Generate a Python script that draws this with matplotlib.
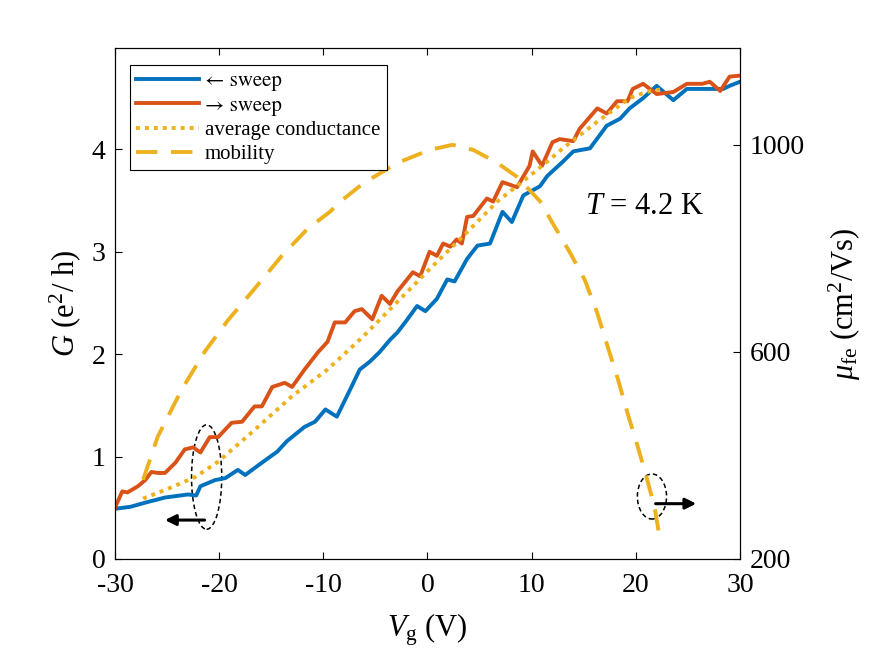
import numpy as np
import matplotlib
matplotlib.use('Agg')
from matplotlib import pyplot as plt
from matplotlib.patches import Ellipse

plt.rcParams['font.family'] = ['Liberation Serif', 'DejaVu Serif']
plt.rcParams['mathtext.fontset'] = 'custom'
plt.rcParams['mathtext.rm'] = 'Liberation Serif'
plt.rcParams['mathtext.it'] = 'Liberation Serif:italic'
plt.rcParams['axes.unicode_minus'] = False

# <- sweep (backward)
v_back = [-30, -28.5, -27.1, -25.2, -23, -22.2, -21.8, -20.4, -19.4, -18.2, -17.5, -15.9,
          -14.4, -13.5, -11.8, -10.8, -9.8, -8.7, -7.4, -6.5, -5.5, -4.6, -3.6, -2.9, -2.0,
          -1.0, -0.2, 0.9, 1.9, 2.6, 3.8, 4.8, 6.0, 7.2, 8.1, 9.2, 10.1, 10.8, 11.5, 13.0,
          14.0, 15.6, 17.2, 18.5, 19.4, 20.7, 22.0, 23.6, 24.9, 26.8, 28.4, 29.0, 30]
g_back = [0.49, 0.51, 0.55, 0.60, 0.63, 0.62, 0.71, 0.77, 0.79, 0.87, 0.82, 0.94,
          1.05, 1.15, 1.29, 1.34, 1.46, 1.39, 1.66, 1.85, 1.93, 2.02, 2.14, 2.21, 2.33,
          2.47, 2.42, 2.54, 2.73, 2.71, 2.93, 3.06, 3.08, 3.39, 3.29, 3.55, 3.60, 3.64, 3.74, 3.88,
          3.98, 4.01, 4.23, 4.30, 4.40, 4.50, 4.62, 4.48, 4.59, 4.59, 4.59, 4.62, 4.66]

# -> sweep (forward)
v_fwd = [-30, -29.3, -28.8, -27.8, -27.1, -26.5, -25.9, -25.2, -24.2, -23.3, -22.5, -21.8,
         -20.9, -20.1, -18.8, -17.8, -16.6, -15.9, -14.9, -13.7, -13.0, -11.8, -10.5, -9.6,
         -8.9, -7.9, -7.0, -6.3, -5.3, -4.4, -3.6, -2.9, -1.4, -0.7, 0.2, 0.9, 1.5, 2.2, 2.8,
         3.3, 3.8, 4.4, 5.7, 6.3, 7.2, 8.6, 9.8, 10.1, 11.0, 12.0, 12.7, 14.0, 14.6, 16.3,
         17.2, 18.2, 19.2, 19.7, 20.7, 22.0, 23.6, 24.9, 26.4, 27.1, 28.1, 29.0, 30]
g_fwd = [0.50, 0.66, 0.65, 0.71, 0.77, 0.85, 0.84, 0.84, 0.94, 1.07, 1.09, 1.04,
         1.19, 1.19, 1.33, 1.34, 1.49, 1.49, 1.68, 1.72, 1.68, 1.85, 2.02, 2.12,
         2.31, 2.31, 2.42, 2.44, 2.34, 2.57, 2.49, 2.61, 2.80, 2.76, 3.00, 2.96, 3.08, 3.05, 3.12,
         3.08, 3.34, 3.35, 3.52, 3.49, 3.68, 3.63, 3.84, 3.98, 3.84, 4.07, 4.10, 4.08, 4.20, 4.40,
         4.35, 4.47, 4.47, 4.59, 4.64, 4.54, 4.56, 4.64, 4.64, 4.66, 4.57, 4.71, 4.72]

# average conductance
v_avg = [-27.3, -24.8, -22.3, -20.1, -16.6, -13.0, -9.6, -6.2, -2.9, 0.2, 3.4, 6.7,
         9.8, 11.5, 13.0, 16.3, 19.4, 21.0, 22.6]
g_avg = [0.59, 0.69, 0.80, 0.95, 1.26, 1.59, 1.85, 2.17, 2.51, 2.83, 3.15, 3.49,
         3.74, 3.88, 4.01, 4.27, 4.50, 4.56, 4.59]

# field-effect mobility (right axis)
v_mob = [-27.3, -25.9, -23.6, -21.4, -19.2, -16.6, -14.0, -11.5, -9.4, -8.2, -6.2, -2.9,
         0.2, 2.4, 4.4, 6.7, 8.6, 10.8, 12.0, 13.7, 15.1, 16.3, 17.3, 18.3, 19.2, 20.2,
         21.0, 21.8, 22.3]
mu_fe = [353, 436, 527, 600, 660, 722, 785, 838, 870, 893, 925, 965,
         990, 1000, 990, 965, 938, 891, 849, 791, 739, 675, 610, 546, 482, 416,
         360, 300, 240]

blue = '#0072BD'
red = '#D95319'
yellow = '#EDB120'

fig = plt.figure(figsize=(8.75, 6.57), dpi=100)
ax = fig.add_axes([0.1314, 0.1492, 0.7143, 0.7778])
ax2 = ax.twinx()

l1, = ax.plot(v_back, g_back, color=blue, lw=2.8)
l2, = ax.plot(v_fwd, g_fwd, color=red, lw=2.8)
l3, = ax.plot(v_avg, g_avg, color=yellow, lw=2.8, dashes=(1, 1.3))
l4, = ax2.plot(v_mob, mu_fe, color=yellow, lw=2.8, dashes=(5.5, 3.5))

ax.set_xlim(-30, 30)
ax.set_ylim(0, 4.99)
ax2.set_ylim(200, 1187)
ax.set_xticks(np.arange(-30, 31, 10))
ax.set_yticks([0, 1, 2, 3, 4])
ax2.set_yticks([200, 600, 1000])

ax.tick_params(axis='y', direction='in', length=5, width=0.8, labelsize=20, pad=7)
ax.tick_params(axis='x', direction='in', length=5, width=0.8, labelsize=20, pad=10, top=True)
ax2.tick_params(axis='y', direction='in', length=5, width=0.8, labelsize=20, pad=7)
for a in (ax, ax2):
    for s in a.spines.values():
        s.set_linewidth(0.8)

ax.set_xlabel(r'$V_{\rm g}$ (V)', fontsize=22, labelpad=10)
ax.set_ylabel(r'$G$ (e$^2$/ h)', fontsize=22, labelpad=6)
ax2.set_ylabel(r'$\mu_{\rm fe}$ (cm$^2$/Vs)', fontsize=22, labelpad=16)

ax.text(15.1, 3.44, r'$T$ = 4.2 K', fontsize=22, ha='left', va='center')

# annotations: ellipses + arrows marking the axes
ax.add_patch(Ellipse((-21.2, 0.80), 2.9, 1.02, fill=False, ls=(0, (3, 2)), lw=1.1, color='k'))
ax.annotate('', xy=(-25.2, 0.38), xytext=(-21.4, 0.38),
            arrowprops=dict(arrowstyle='-|>', lw=2.2, color='k', mutation_scale=16,
                            shrinkA=0, shrinkB=0))
ax.add_patch(Ellipse((21.55, 0.61), 2.8, 0.44, fill=False, ls=(0, (3, 2)), lw=1.1, color='k'))
ax.annotate('', xy=(25.8, 0.54), xytext=(21.9, 0.54),
            arrowprops=dict(arrowstyle='-|>', lw=2.2, color='k', mutation_scale=16,
                            shrinkA=0, shrinkB=0))

leg = ax2.legend([l1, l2, l3, l4],
                 ['\u2190 sweep', '\u2192 sweep', 'average conductance', 'mobility'],
                 loc='upper left', bbox_to_anchor=(0.024, 0.966), fontsize=15,
                 handlelength=3.0, handletextpad=0.3, labelspacing=0.22,
                 borderpad=0.3, borderaxespad=0, fancybox=False, framealpha=1,
                 edgecolor='k')
leg.get_frame().set_linewidth(0.8)
for t in leg.get_texts()[:2]:
    t.set_family(['STIXGeneral', 'Liberation Serif'])

fig.savefig('out.png', dpi=100)
